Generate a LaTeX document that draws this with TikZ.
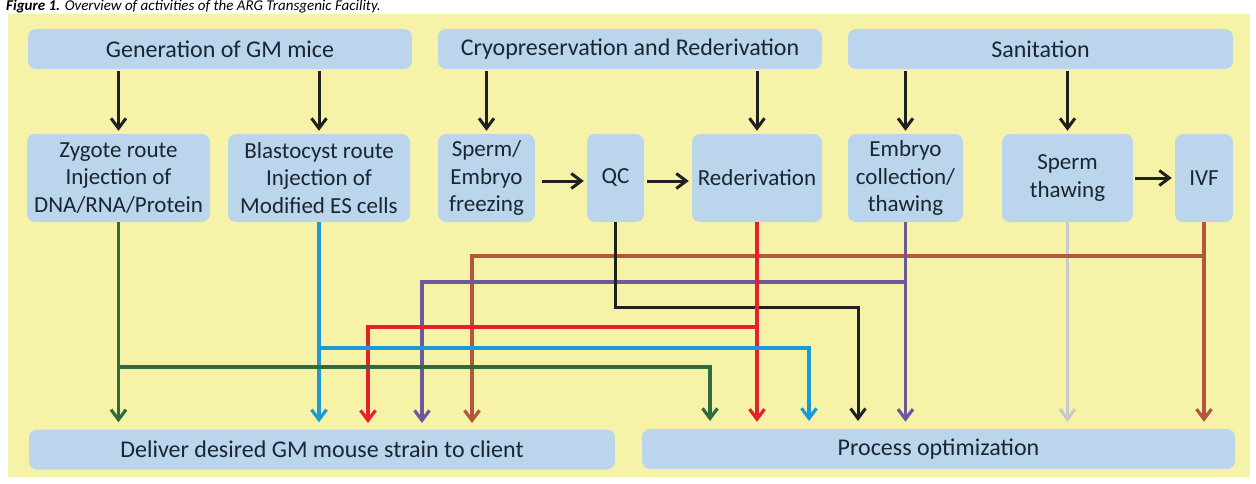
\documentclass[tikz,border=0pt]{standalone}
\usepackage{fontspec}
\setmainfont{Carlito}
\usetikzlibrary{arrows.meta}
\definecolor{panel}{HTML}{F6F3A9}
\definecolor{boxblue}{HTML}{BAD5EC}
\definecolor{txt}{HTML}{1A2631}
\definecolor{lgreen}{HTML}{2F6B3F}
\definecolor{lblue}{HTML}{1C9AD6}
\definecolor{lred}{HTML}{E3222E}
\definecolor{lpurple}{HTML}{6A5A9C}
\definecolor{lbrown}{HTML}{B4553E}
\definecolor{lgrey}{HTML}{C9C9C9}
\definecolor{lblack}{HTML}{1E221E}
\begin{document}
\begin{tikzpicture}[x=1pt,y=-1pt,
  box/.style={fill=boxblue, rounded corners=8pt, inner sep=0pt, align=center, text=txt},
  topbox/.style={box, minimum height=40pt, font=\fontsize{24}{28}\selectfont},
  midbox/.style={box, minimum height=88pt, font=\fontsize{23}{27.5}\selectfont},
  botbox/.style={box, minimum height=40pt, font=\fontsize{24}{28}\selectfont},
  conn/.style={line width=3.2pt, -{Straight Barb[length=10pt,width=15pt]}},
  blk/.style={conn, lblack, line width=3pt},
  tipgap/.style={shorten >=7pt}
]
\useasboundingbox (0,0) rectangle (1256,483);
\fill[white] (0,0) rectangle (1256,483);
\node[anchor=base west, inner sep=0pt, font=\fontsize{15}{18}\selectfont, text=black] (cap) at (6,10.5)
  {\textbf{\textit{Figure 1.}} \textit{Overview of activities of the ARG Transgenic Facility.}};
\node[fill=panel, inner sep=0pt, anchor=north west, minimum width=1242pt, minimum height=463pt] (panelbg) at (8,14) {};

% top row
\node[topbox, minimum width=384pt] (gen) at (220,49) {Generation of GM mice};
\node[topbox, minimum width=384pt] (cryo) at (630,49) {Cryopreservation and Rederivation};
\node[topbox, minimum width=385pt] (san) at (1040.5,49) {Sanitation};

% middle row
\node[midbox, minimum width=183pt] (zyg) at (118.5,178) {Zygote route\\Injection of\\DNA/RNA/Protein};
\node[midbox, minimum width=182pt] (blast) at (319,178) {Blastocyst route\\Injection of\\Modified ES cells};
\node[midbox, minimum width=97pt] (freeze) at (486.5,178) {Sperm/\\Embryo\\freezing};
\node[midbox, minimum width=57pt] (qc) at (615.5,178) {QC};
\node[midbox, minimum width=130pt] (rederiv) at (757,178) {Rederivation};
\node[midbox, minimum width=115pt] (embryo) at (905.5,178) {Embryo\\collection/\\thawing};
\node[midbox, minimum width=131pt] (spthaw) at (1067.5,178) {Sperm\\thawing};
\node[midbox, minimum width=58pt] (ivf) at (1204,178) {IVF};

% bottom row
\node[botbox, minimum width=586pt] (deliver) at (322,449.5) {Deliver desired GM mouse strain to client};
\node[botbox, minimum width=593pt] (proc) at (938.5,449) {Process optimization};

% black arrows from top row
\draw[blk, shorten <=2pt, shorten >=3pt] (gen.south -| zyg.north) -- (zyg.north);
\draw[blk, shorten <=2pt, shorten >=3pt] (gen.south -| blast.north) -- (blast.north);
\draw[blk, shorten <=2pt, shorten >=3pt] (cryo.south -| freeze.north) -- (freeze.north);
\draw[blk, shorten <=2pt, shorten >=3pt] (cryo.south -| rederiv.north) -- (rederiv.north);
\draw[blk, shorten <=2pt, shorten >=3pt] (san.south -| embryo.north) -- (embryo.north);
\draw[blk, shorten <=2pt, shorten >=3pt] (san.south -| spthaw.north) -- (spthaw.north);
% horizontal arrows
\draw[blk, shorten <=7pt, shorten >=3pt] ([yshift=-3pt]freeze.east) -- ([yshift=-3pt]qc.west);
\draw[blk, shorten <=3pt, shorten >=3pt] ([yshift=-3pt]qc.east) -- ([yshift=-3pt]rederiv.west);
\draw[blk, shorten <=2pt, shorten >=3pt] (spthaw.east) -- (ivf.west);

% levels and drop points
\coordinate (yN) at (0,256);
\coordinate (yP) at (0,282);
\coordinate (yR) at (0,327);
\coordinate (yB) at (0,348);
\coordinate (yG) at (0,367);
\coordinate (kTurn) at (858,307);
\coordinate (pG) at (710,428);
\coordinate (pB) at (809,428);
\coordinate (pK) at (858,428);
\coordinate (dR) at (368,430);
\coordinate (dP) at (422,430);
\coordinate (dN) at (472,430);

% grey
\draw[conn, lgrey, tipgap] (spthaw.south) -- (spthaw.south |- proc.north);
% brown (IVF)
\draw[conn, lbrown, tipgap] (ivf.south) -- (ivf.south |- proc.north);
\draw[conn, lbrown, tipgap] (ivf.south |- yN) -| (dN);
% purple (embryo)
\draw[conn, lpurple, tipgap] (embryo.south) -- (embryo.south |- proc.north);
\draw[conn, lpurple, tipgap] (embryo.south |- yP) -| (dP);
% black (QC)
\draw[blk, tipgap] (qc.south) |- (kTurn) -- (pK);
% red (rederivation)
\draw[conn, lred, tipgap] (rederiv.south) -- (rederiv.south |- proc.north);
\draw[conn, lred, tipgap] (rederiv.south |- yR) -| (dR);
% blue (blastocyst)
\draw[conn, lblue, tipgap] (blast.south) -- (blast.south |- deliver.north);
\draw[conn, lblue, tipgap] (blast.south |- yB) -| (pB);
% green (zygote)
\draw[conn, lgreen, tipgap] (zyg.south) -- (zyg.south |- deliver.north);
\draw[conn, lgreen, tipgap] (zyg.south |- yG) -| (pG);
\end{tikzpicture}
\end{document}
